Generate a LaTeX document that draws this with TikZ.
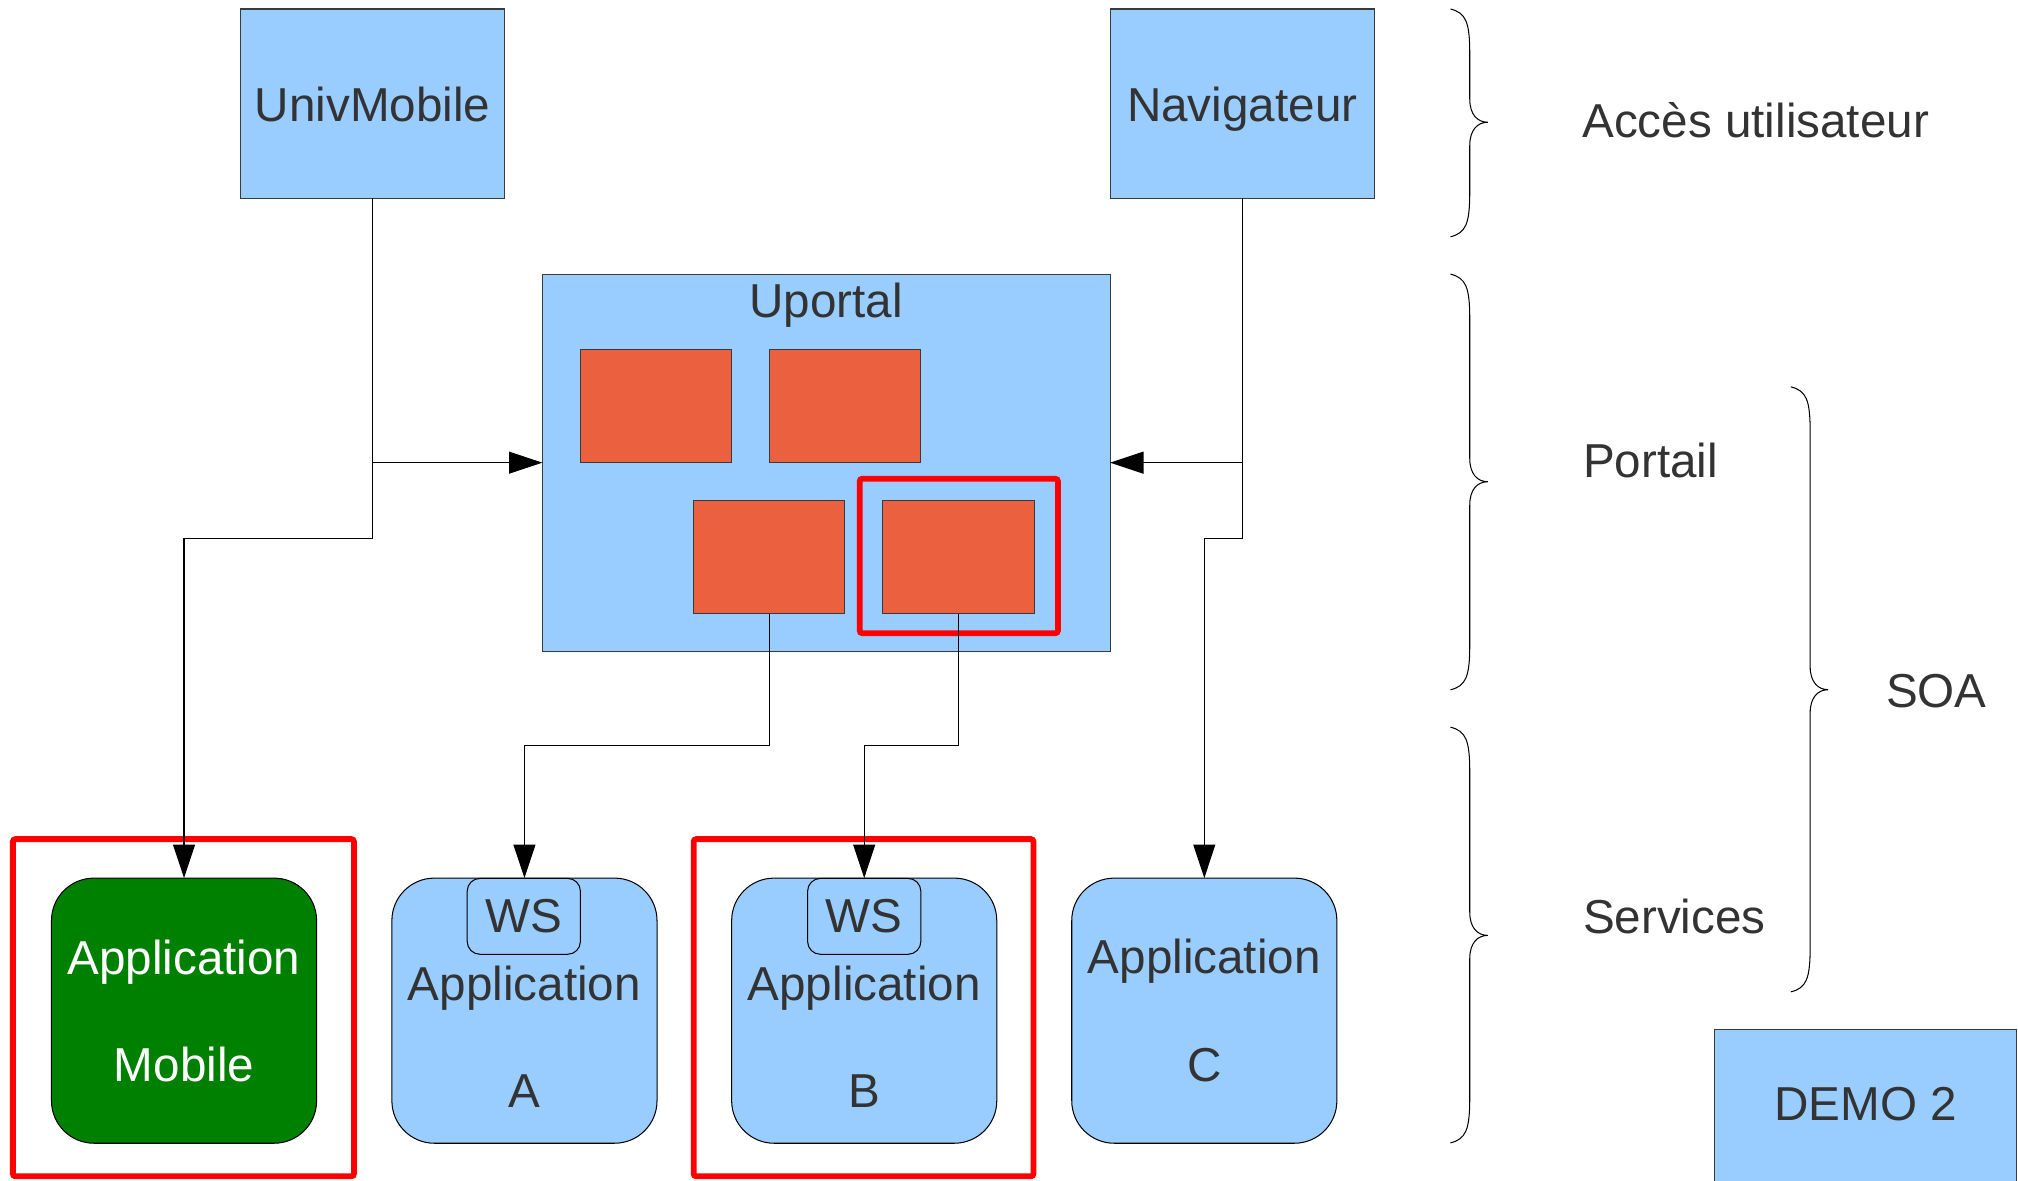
\documentclass[tikz,border=0pt]{standalone}
\usepackage{fontspec}
\setmainfont{Liberation Sans}
\usetikzlibrary{arrows.meta}
\definecolor{boxblue}{HTML}{99CCFF}
\definecolor{tileorange}{RGB}{235,97,64}
\definecolor{appgreen}{RGB}{0,128,0}
\definecolor{txt}{HTML}{333333}
\definecolor{edgec}{HTML}{3A3A3A}
\newcommand\mybrace[4]{% x, ytop, ytip, ybot
  \draw[bracel] (#1,#2) .. controls +(12,3) and +(0,-25) .. (#1+15,#2+35)
    -- (#1+15,#3-18) .. controls +(0,12) and +(-8,0) .. (#1+29,#3)
    .. controls +(-8,0) and +(0,-12) .. (#1+15,#3+18)
    -- (#1+15,#4-35) .. controls +(0,25) and +(12,-3) .. (#1,#4);}
\begin{document}
\begin{tikzpicture}[x=1pt,y=-1pt,
  every node/.style={inner sep=0pt,outer sep=0pt,font=\fontsize{37}{44}\selectfont,text=txt},
  bluebox/.style={draw=edgec,line width=0.8pt,fill=boxblue},
  tile/.style={draw=edgec,line width=0.8pt,fill=tileorange,minimum width=117.5pt,minimum height=88pt},
  appbox/.style={draw=black,line width=0.8pt,rounded corners=33pt,minimum width=206pt,minimum height=206pt},
  wsbox/.style={draw=black,line width=0.8pt,rounded corners=10pt,fill=boxblue,minimum width=88pt,minimum height=59pt},
  hl/.style={draw=red,line width=4.5pt,rounded corners=2pt},
  conn/.style={draw=black,line width=0.9pt},
  arr/.style={conn,-{Triangle[length=26pt,width=17pt]}},
  bracel/.style={draw=black,line width=0.8pt},
  lbl/.style={anchor=base},
  lblw/.style={anchor=base west}]
\clip (0,0) rectangle (1568,917);
\fill[white] (0,0) rectangle (1568,917);

% top boxes
\node[bluebox,minimum width=205.5pt,minimum height=147pt] (univ) at (289.5,80.5) {};
\node[bluebox,minimum width=205.5pt,minimum height=147pt] (nav) at (965.25,80.5) {};
\node[lbl] (tuniv) at (289.5,94.2) {UnivMobile};
\node[lbl] (tnav) at (965.25,94.2) {Navigateur};

% uportal
\node[bluebox,minimum width=441pt,minimum height=293pt] (uportal) at (642,359.5) {};
\node[lbl] (tuportal) at (642,247) {Uportal};
\node[tile] (t1) at (509.75,315.5) {};
\node[tile] (t2) at (656.75,315.5) {};
\node[tile] (t3) at (597.75,433) {};
\node[tile] (t4) at (744.75,433) {};
\node[hl,minimum width=154pt,minimum height=120pt] (hlt) at (745,432) {};

% applications
\node[appbox,fill=appgreen] (appm) at (143,785.3) {};
\node[appbox,fill=boxblue] (appA) at (407.5,785.3) {};
\node[appbox,fill=boxblue] (appB) at (671.5,785.3) {};
\node[appbox,fill=boxblue] (appC) at (935.75,785.3) {};
\node[wsbox] (wsA) at (407,712) {};
\node[wsbox] (wsB) at (671.5,712) {};
\node[lbl,text=white] (tm1) at (143,757.2) {Application};
\node[lbl,text=white] (tm2) at (143,840) {Mobile};
\node[lbl] (twsA) at (407,724.5) {WS};
\node[lbl] (tA1) at (407.5,777.1) {Application};
\node[lbl] (tA2) at (407.5,860.4) {A};
\node[lbl] (twsB) at (671.5,724.5) {WS};
\node[lbl] (tB1) at (671.5,777.1) {Application};
\node[lbl] (tB2) at (671.5,860.4) {B};
\node[lbl] (tC1) at (935.75,756.6) {Application};
\node[lbl] (tC2) at (935.75,840) {C};

% highlights
\node[hl,minimum width=265pt,minimum height=262pt] (hlm) at (142.5,783) {};
\node[hl,minimum width=264pt,minimum height=262pt] (hlb) at (671,783) {};

% connectors
\coordinate (jU) at (289.5,359.5);
\coordinate (bU) at (289.5,418.4);
\coordinate (jN) at (965.25,359.5);
\coordinate (bN) at (965.25,418.4);
\coordinate (b3) at (597.75,579.5);
\coordinate (b4) at (744.75,579.5);
\draw[arr] (univ.south) -- (jU) -- (uportal.west);
\draw[arr] (jU) -- (bU) -| (appm.north);
\draw[arr] (nav.south) -- (jN) -- (uportal.east);
\draw[arr] (jN) -- (bN) -| (appC.north);
\draw[arr] (t3.south) -- (b3) -| (appA.north);
\draw[arr] (t4.south) -- (b4) -| (appB.north);

% braces and layer labels
\mybrace{1127}{7}{95}{184}
\mybrace{1127}{213}{374.3}{536}
\mybrace{1127}{565}{726.8}{888}
\mybrace{1391.5}{300.6}{535.9}{770.7}
\node[lblw] (lacc) at (1229.5,106.7) {Accès utilisateur};
\node[lblw] (lpor) at (1230,370.8) {Portail};
\node[lblw] (lser) at (1230,725) {Services};
\node[lbl] (lsoa) at (1504.5,549.6) {SOA};

% demo box
\node[bluebox,minimum width=235pt,minimum height=140pt] (demo) at (1449.5,870) {};
\node[lbl] (tdemo) at (1449.5,870.7) {DEMO 2};
\end{tikzpicture}
\end{document}
